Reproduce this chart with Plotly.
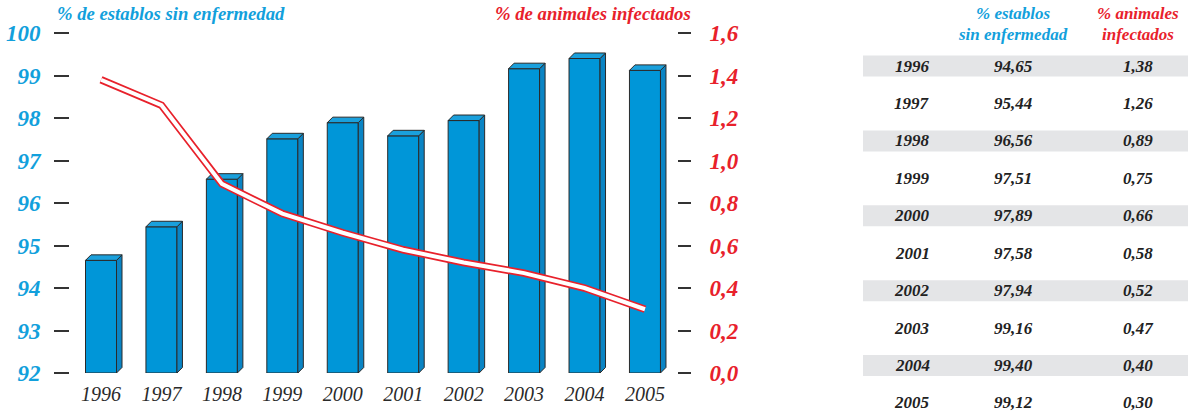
import plotly.graph_objects as go

# ---------------- data ----------------
years = ["1996", "1997", "1998", "1999", "2000", "2001", "2002", "2003", "2004", "2005"]
establos = [94.65, 95.44, 96.56, 97.51, 97.89, 97.58, 97.94, 99.16, 99.40, 99.12]
animales = [1.38, 1.26, 0.89, 0.75, 0.66, 0.58, 0.52, 0.47, 0.40, 0.30]
left_ticks = [92, 93, 94, 95, 96, 97, 98, 99, 100]
right_ticks = [0.0, 0.2, 0.4, 0.6, 0.8, 1.0, 1.2, 1.4, 1.6]
title_left = "% de establos sin enfermedad"
title_right = "% de animales infectados"
head_est = ["% establos", "sin enfermedad"]
head_ani = ["% animales", "infectados"]

# ---------------- style ----------------
W, H = 1188, 414
BLUE = "#0096d8"
BLUE_SIDE = "#0a84c4"
BLUE_TOP = "#1aa0dc"
BLUE_TXT = "#12a0dc"
RED = "#e8212b"
EDGE = "#2a2a2a"
DARK = "#222222"
FONT = "Liberation Serif"

Y_MIN, Y_MAX = 92, 100
Y2_MIN, Y2_MAX = 0.0, 1.6
X_RANGE = [-0.513, 9.53]
BAR_W = 0.513
DX = 0.091   # depth offset in x units
DY = 0.13    # depth offset in y units

xs = list(range(len(years)))

fig = go.Figure()

# front faces
fig.add_trace(go.Bar(
    x=xs, y=[v - Y_MIN for v in establos], base=Y_MIN, width=BAR_W,
    marker=dict(color=BLUE, line=dict(color=EDGE, width=1)),
    hoverinfo="skip", showlegend=False,
))

# side faces and top faces (computed from data)
side_x, side_y, top_x, top_y = [], [], [], []
for x, v in zip(xs, establos):
    r = x + BAR_W / 2
    l = x - BAR_W / 2
    side_x += [r, r + DX, r + DX, r, r, None]
    side_y += [Y_MIN, Y_MIN + DY, v + DY, v, Y_MIN, None]
    top_x += [l, l + DX, r + DX, r, l, None]
    top_y += [v, v + DY, v + DY, v, v, None]

fig.add_trace(go.Scatter(x=side_x, y=side_y, mode="lines", fill="toself",
                         fillcolor=BLUE_SIDE, line=dict(color=EDGE, width=1),
                         hoverinfo="skip", showlegend=False, cliponaxis=False))
fig.add_trace(go.Scatter(x=top_x, y=top_y, mode="lines", fill="toself",
                         fillcolor=BLUE_TOP, line=dict(color=EDGE, width=1),
                         hoverinfo="skip", showlegend=False, cliponaxis=False))

# red-outlined white line
fig.add_trace(go.Scatter(x=xs, y=animales, yaxis="y2", mode="lines",
                         line=dict(color=RED, width=7.5),
                         hoverinfo="skip", showlegend=False))
fig.add_trace(go.Scatter(x=xs, y=animales, yaxis="y2", mode="lines",
                         line=dict(color="white", width=4),
                         hoverinfo="skip", showlegend=False))

# ---------------- axes ----------------
L, R, T, B = 70, 1188 - 677, 33, 414 - 373
PW, PH = W - L - R, H - T - B


def px_x(p):
    """pixel x -> paper fraction"""
    return (p - L) / PW


def px_y(p):
    """pixel y (from top) -> paper fraction"""
    return (H - B - p) / PH


fig.update_layout(
    width=W, height=H,
    margin=dict(l=L, r=R, t=T, b=B, autoexpand=False),
    paper_bgcolor="white", plot_bgcolor="white",
    separators=",.",
    xaxis=dict(range=X_RANGE, tickvals=xs, ticktext=years,
               showgrid=False, zeroline=False, showline=False, ticks="",
               ticklabelstandoff=7, automargin=False,
               tickfont=dict(family=FONT, size=20, color="#2a2a2a", style="italic")),
    yaxis=dict(range=[Y_MIN, Y_MAX], tickvals=left_ticks,
               showgrid=False, zeroline=False, showline=False, automargin=False,
               ticks="outside", ticklen=15, tickwidth=1.5, tickcolor="#333333",
               ticklabelstandoff=9,
               tickfont=dict(family=FONT, size=23, color=BLUE_TXT, style="italic", weight="bold")),
    yaxis2=dict(overlaying="y", side="right", range=[Y2_MIN, Y2_MAX], tickvals=right_ticks,
                tickformat=".1f", automargin=False,
                showgrid=False, zeroline=False, showline=False,
                ticks="outside", ticklen=13, tickwidth=1.5, tickcolor="#333333",
                ticklabelstandoff=14,
                tickfont=dict(family=FONT, size=23, color=RED, style="italic", weight="bold")),
)

title_font = dict(family=FONT, size=18.7, style="italic", weight="bold")
fig.add_annotation(text=title_left, xref="paper", yref="paper", x=px_x(55), y=px_y(14),
                   xanchor="left", yanchor="middle", showarrow=False,
                   font=dict(color=BLUE_TXT, **title_font))
fig.add_annotation(text=title_right, xref="paper", yref="paper", x=px_x(693), y=px_y(14),
                   xanchor="right", yanchor="middle", showarrow=False,
                   font=dict(color=RED, **title_font))

# ---------------- table ----------------
ROW0, ROW_PITCH, BAND_H = 66, 37.44, 21
COL_YEAR, COL_EST, COL_ANI = px_x(912), px_x(1013), px_x(1138)
head_px = [14, 34]
for i, (a, b) in enumerate(zip(head_est, head_ani)):
    fig.add_annotation(text=a, xref="paper", yref="paper", x=COL_EST, y=px_y(head_px[i]),
                       showarrow=False, xanchor="center", yanchor="middle",
                       font=dict(family=FONT, size=17, color=BLUE_TXT, style="italic", weight="bold"))
    fig.add_annotation(text=b, xref="paper", yref="paper", x=COL_ANI, y=px_y(head_px[i]),
                       showarrow=False, xanchor="center", yanchor="middle",
                       font=dict(family=FONT, size=17, color=RED, style="italic", weight="bold"))

cell_font = dict(family=FONT, size=17, color=DARK, style="italic", weight="bold")
for i, (yr, e, a) in enumerate(zip(years, establos, animales)):
    yc = ROW0 + ROW_PITCH * i
    if i % 2 == 0:
        fig.add_shape(type="rect", xref="paper", yref="paper", x0=px_x(863), x1=px_x(W),
                      y0=px_y(yc + BAND_H / 2), y1=px_y(yc - BAND_H / 2),
                      fillcolor="#e4e5e7", line=dict(width=0), layer="below")
    for col, txt in ((COL_YEAR, yr), (COL_EST, f"{e:.2f}".replace(".", ",")),
                     (COL_ANI, f"{a:.2f}".replace(".", ","))):
        fig.add_annotation(text=txt, xref="paper", yref="paper", x=col, y=px_y(yc),
                           showarrow=False, xanchor="center", yanchor="middle", font=cell_font)

fig.write_html("out.html", config={"displayModeBar": False},
               post_script="document.body.style.margin='0';document.body.style.padding='0';")
